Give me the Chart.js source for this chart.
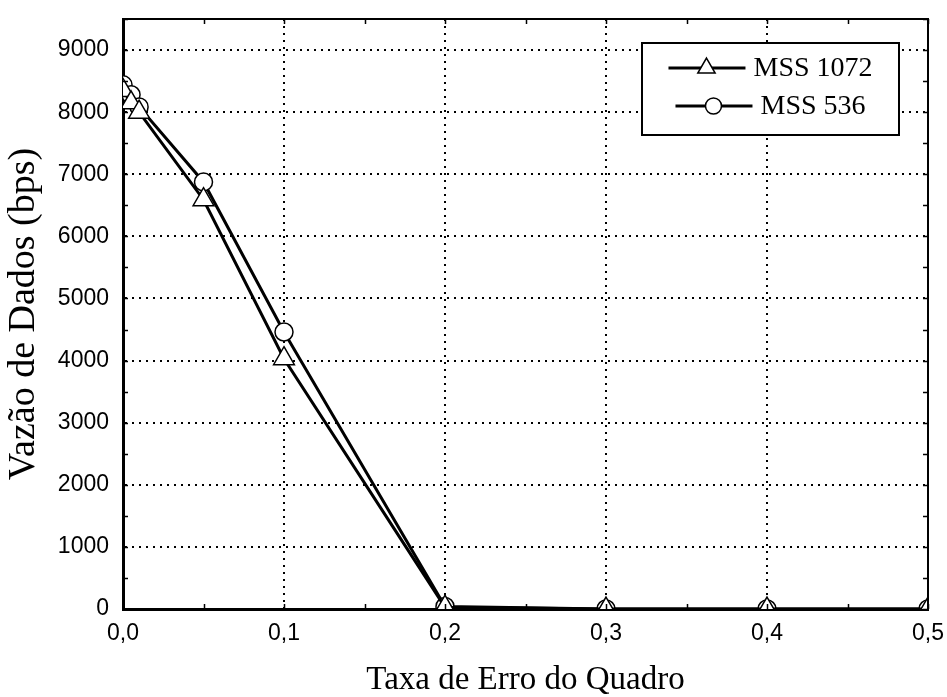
<!DOCTYPE html>
<html lang="pt-br">
<head>
<meta charset="UTF-8" />
<title>Vazão de Dados x Taxa de Erro do Quadro</title>
<script src="https://cdn.jsdelivr.net/npm/chart.js@4.4.0/dist/chart.umd.min.js"></script>
<style>
  html, body { margin: 0; background: #fff; }
  #wrap { width: 947px; height: 697px; }
</style>
</head>
<body>
<div id="wrap"><canvas id="grafico" width="947" height="697"></canvas></div>
<script>
// dados
const taxaErro = [0, 0.005, 0.01, 0.05, 0.1, 0.2, 0.3, 0.4, 0.5];
const vazaoMss1072 = [8350, 8150, 8000, 6590, 4030, 30, 0, 0, 0];
const vazaoMss536 = [8440, 8280, 8085, 6876, 4460, 40, 0, 0, 0];
const ticksX = [0, 0.1, 0.2, 0.3, 0.4, 0.5];
const ticksY = [0, 1000, 2000, 3000, 4000, 5000, 6000, 7000, 8000, 9000];
const minorX = [0.05, 0.15, 0.25, 0.35, 0.45];
const minorY = [500, 1500, 2500, 3500, 4500, 5500, 6500, 7500, 8500, 9500];

const pontos = (ys) => taxaErro.map((x, i) => ({ x: x, y: ys[i] }));

// sem folga extra dos rótulos nas bordas
const semFolga = (s) => {
  s.paddingTop = 0; s.paddingBottom = 0;
  s.paddingLeft = 0; s.paddingRight = 0;
};

// moldura, marcas menores e legenda
const molduraLegenda = {
  id: "molduraLegenda",
  afterDatasetsDraw(chart) {
    const ctx = chart.ctx;
    const a = chart.chartArea;
    const sx = chart.scales.x, sy = chart.scales.y;
    ctx.save();
    ctx.strokeStyle = "#000";
    ctx.lineWidth = 2;
    ctx.beginPath();
    ctx.moveTo(a.left, a.top);
    ctx.lineTo(a.right, a.top);
    ctx.lineTo(a.right, a.bottom);
    ctx.stroke();

    ctx.lineWidth = 1.5;
    ctx.beginPath();
    minorY.concat(ticksY).forEach((v) => {
      const y = Math.round(sy.getPixelForValue(v)) + 0.5;
      ctx.moveTo(a.left, y); ctx.lineTo(a.left + 5, y);
      ctx.moveTo(a.right, y); ctx.lineTo(a.right - 5, y);
    });
    minorX.concat(ticksX).forEach((v) => {
      const x = Math.round(sx.getPixelForValue(v)) + 0.5;
      ctx.moveTo(x, a.bottom); ctx.lineTo(x, a.bottom - 5);
      ctx.moveTo(x, a.top); ctx.lineTo(x, a.top + 5);
    });
    ctx.stroke();
    ctx.restore();
  },
  afterDraw(chart) {
    const ctx = chart.ctx;
    const a = chart.chartArea;
    const x0 = a.right - 286, y0 = a.top + 24, w = 257, h = 92;
    ctx.save();
    ctx.fillStyle = "#fff";
    ctx.fillRect(x0, y0, w, h);
    ctx.strokeStyle = "#000";
    ctx.lineWidth = 2;
    ctx.strokeRect(x0, y0, w, h);
    ctx.font = '28px "Liberation Serif"';
    ctx.textBaseline = "middle";
    chart.data.datasets.forEach((ds, i) => {
      const y = y0 + 25 + i * 38;
      const tw = ctx.measureText(ds.label).width;
      const lx = x0 + (w - (77 + 8 + tw)) / 2;
      ctx.strokeStyle = "#000";
      ctx.lineWidth = 3;
      ctx.beginPath();
      ctx.moveTo(lx, y);
      ctx.lineTo(lx + 77, y);
      ctx.stroke();
      ctx.fillStyle = "#fff";
      ctx.lineWidth = 1.5;
      Chart.helpers.drawPoint(ctx, {
        pointStyle: ds.pointStyle,
        radius: ds.pointStyle === "triangle" ? 10 : 8,
        borderWidth: 1.5,
        rotation: 0
      }, lx + 38, y);
      ctx.fillStyle = "#000";
      ctx.fillText(ds.label, lx + 85, y + 1);
    });
    ctx.restore();
  }
};

new Chart(document.getElementById("grafico"), {
  type: "line",
  data: {
    datasets: [
      {
        label: "MSS 1072",
        data: pontos(vazaoMss1072),
        borderColor: "#000",
        borderWidth: 3,
        pointStyle: "triangle",
        pointRadius: 12,
        pointBackgroundColor: "#fff",
        pointBorderColor: "#000",
        pointBorderWidth: 1.5,
        tension: 0
      },
      {
        label: "MSS 536",
        data: pontos(vazaoMss536),
        borderColor: "#000",
        borderWidth: 3,
        pointStyle: "circle",
        pointRadius: 9,
        pointBackgroundColor: "#fff",
        pointBorderColor: "#000",
        pointBorderWidth: 1.5,
        tension: 0
      }
    ]
  },
  options: {
    responsive: false,
    animation: false,
    devicePixelRatio: 1,
    layout: { autoPadding: false, padding: { top: 19, right: 19, left: 0, bottom: 0 } },
    plugins: { legend: { display: false }, tooltip: { enabled: false } },
    scales: {
      x: {
        type: "linear",
        min: 0,
        max: 0.5,
        afterBuildTicks: (s) => { s.ticks = ticksX.map((v) => ({ value: v })); },
        afterFit: (s) => { s.height = 88; semFolga(s); },
        ticks: {
          color: "#000",
          padding: 11,
          maxRotation: 0,
          font: { family: "Liberation Sans", size: 23 },
          callback: (v) => v.toFixed(1).replace(".", ",")
        },
        grid: { color: "#000", lineWidth: 2, drawTicks: false },
        border: { display: true, color: "#000", width: 3, dash: [2, 5] },
        title: {
          display: true,
          text: "Taxa de Erro do Quadro",
          color: "#000",
          padding: 0,
          font: { family: "Liberation Serif", size: 33, lineHeight: 1 }
        }
      },
      y: {
        type: "linear",
        min: 0,
        max: 9500,
        afterBuildTicks: (s) => { s.ticks = ticksY.map((v) => ({ value: v })); },
        afterFit: (s) => { s.width = 123; semFolga(s); },
        ticks: {
          color: "#000",
          padding: 14,
          font: { family: "Liberation Sans", size: 23 },
          callback: (v) => String(v)
        },
        grid: { color: "#000", lineWidth: 2, drawTicks: false },
        border: { display: true, color: "#000", width: 3, dash: [2, 5] },
        title: {
          display: true,
          text: "Vazão de Dados (bps)",
          color: "#000",
          padding: { top: 5, bottom: 0 },
          font: { family: "Liberation Serif", size: 38, lineHeight: 1 }
        }
      }
    }
  },
  plugins: [molduraLegenda]
});
</script>
</body>
</html>
